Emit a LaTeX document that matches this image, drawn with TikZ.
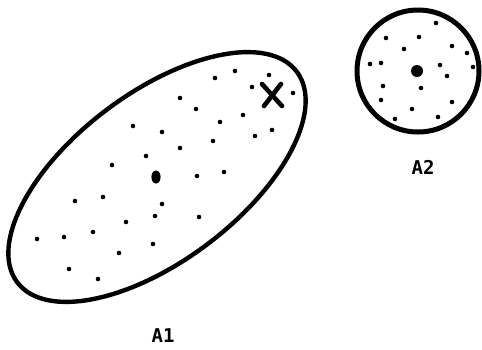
\documentclass[tikz,border=0pt]{standalone}
\usepackage{fontspec}
\newfontfamily\labfont{DejaVu Sans Mono}
\begin{document}
\begin{tikzpicture}[x=1pt,y=-1pt,
  outline/.style={line width=4.4pt, black},
  lab/.style={font=\labfont\bfseries\fontsize{19}{21}\selectfont, inner sep=0pt}]
\useasboundingbox (0,0) rectangle (482,349);
% region A1
\begin{scope}[shift={(157,177)}, rotate=37]
  \draw[outline] (0,0) ellipse [x radius=175pt, y radius=84pt];
\end{scope}
\foreach \p in {(235,71),(215,78),(269,75),(252,87),(293,93),(180,98),(196,109),
  (243,115),(220,122),(133,126),(162,132),(272,130),(255,136),(213,141),(180,148),
  (146,156),(112,165),(197,176),(224,172),(103,197),(75,201),(162,204),(155,216),
  (126,222),(199,217),(93,232),(64,237),(37,239),(153,244),(119,253),(69,269),(98,279)}
  \fill \p circle (2.3pt);
\fill (156,177) ellipse [x radius=4.6pt, y radius=6.5pt];
\coordinate (x1) at (262,84); \coordinate (x2) at (282,106);
\coordinate (x3) at (264,106); \coordinate (x4) at (281,84);
\draw[line width=4.6pt, line cap=round] (x1) -- (x2);
\draw[line width=4.6pt, line cap=round] (x3) -- (x4);
% region A2
\draw[line width=5pt] (418,71) circle (61pt);
\foreach \p in {(436,23),(386,38),(419,37),(452,46),(404,49),(467,53),(370,64),
  (381,63),(440,65),(473,67),(447,76),(383,86),(421,88),(381,100),(452,102),
  (412,109),(395,119),(438,117)}
  \fill \p circle (2.3pt);
\fill (417,71) circle (6pt);
% labels
\node[lab] (A1) at (163,336) {A1};
\node[lab] (A2) at (423,167) {A2};
\end{tikzpicture}
\end{document}
